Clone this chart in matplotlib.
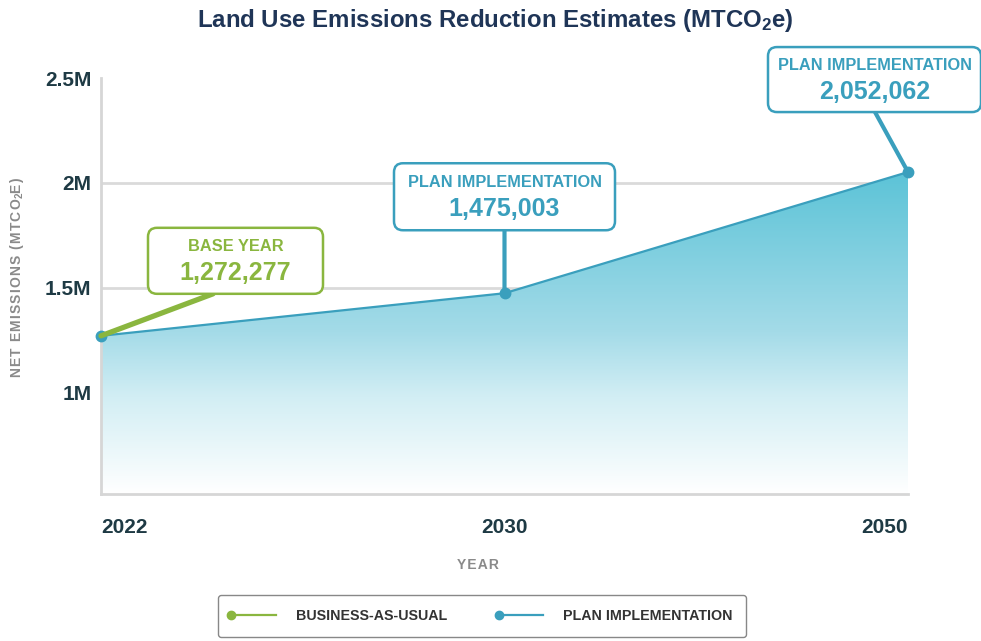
import numpy as np
import matplotlib
matplotlib.use("Agg")
import matplotlib.pyplot as plt
from matplotlib.colors import LinearSegmentedColormap
from matplotlib.patches import FancyBboxPatch
from matplotlib.lines import Line2D
from matplotlib.legend_handler import HandlerLine2D
from matplotlib.transforms import IdentityTransform

plt.rcParams['font.family'] = ['Liberation Sans', 'DejaVu Sans']
plt.rcParams['mathtext.fontset'] = 'custom'
plt.rcParams['mathtext.rm'] = 'Liberation Sans:bold'
plt.rcParams['mathtext.default'] = 'rm'

# data
years = ['2022', '2030', '2050']
plan = [1272277, 1475003, 2052062]
yticks = [1.0e6, 1.5e6, 2.0e6, 2.5e6]
ytick_labels = ['1M', '1.5M', '2M', '2.5M']
callout_titles = ['BASE YEAR', 'PLAN IMPLEMENTATION', 'PLAN IMPLEMENTATION']
legend_labels = ['BUSINESS-AS-USUAL', 'PLAN IMPLEMENTATION']

teal = '#3a9fbd'
green = '#8ab63f'
dark = '#1e3a44'
gray = '#8a8a8a'


def spaced(s):
    # rough letter spacing with hair spaces
    return '\u200a'.join(s)


W, H = 981, 641
fig = plt.figure(figsize=(W / 100, H / 100), dpi=100)
ax = fig.add_axes([101 / W, (H - 494) / H, (908 - 101) / W, (494 - 78) / H])

x = np.arange(len(years))
ymin, ymax = 0.519e6, 2.5e6
ax.set_xlim(0, len(years) - 1)
ax.set_ylim(ymin, ymax)

# gradient fill under the line
poly = ax.fill_between(x, plan, ymin, color='none', lw=0, zorder=1)
cmap = LinearSegmentedColormap.from_list(
    'fade', [(0, '#ffffff'), (0.3, '#d2eef4'), (0.5, '#a4dbe8'), (1, '#5bc3d7')])
grad = np.linspace(0, 1, 256).reshape(-1, 1)
img = ax.imshow(grad, cmap=cmap, aspect='auto', origin='lower',
                extent=[0, len(years) - 1, ymin, 2.06e6], zorder=1)
img.set_clip_path(poly.get_paths()[0], transform=ax.transData)

ax.plot(x, plan, color=teal, lw=1.6, marker='o', ms=7.5, zorder=4, clip_on=False)

# axes styling
for s in ['top', 'right']:
    ax.spines[s].set_visible(False)
for s in ['left', 'bottom']:
    ax.spines[s].set_color('#d6d6d6')
    ax.spines[s].set_linewidth(2)
ax.set_yticks(yticks)
ax.set_yticklabels(ytick_labels)
ax.set_xticks(x)
ax.set_xticklabels(years)
ax.tick_params(axis='y', length=0, pad=7, labelsize=15, labelcolor=dark)
ax.tick_params(axis='x', length=0, pad=17, labelsize=15, labelcolor=dark)
for lab in ax.get_xticklabels() + ax.get_yticklabels():
    lab.set_fontweight('bold')
xl = ax.get_xticklabels()
xl[0].set_ha('left')
xl[-1].set_ha('right')
ax.set_axisbelow(True)
ax.yaxis.grid(True, color='#dadada', lw=2)
ax.yaxis.get_gridlines()[-1].set_visible(False)

# titles
fig.text(495 / W, 1 - 20 / H, r'Land Use Emissions Reduction Estimates (MTCO$_2$e)',
         ha='center', va='center', fontsize=17.3, fontweight='bold', color='#1f3557')
fig.text(17 / W, 1 - 277 / H, spaced('NET EMISSIONS (MTCO') + r'$_2$' + spaced('E)'),
         rotation=90, ha='center', va='center', fontsize=10, fontweight='bold',
         color=gray)
fig.text(478 / W, 1 - 565 / H, spaced('YEAR'), ha='center', va='center',
         fontsize=10, fontweight='bold', color=gray)

# callouts: box centre offset from point, box size, connector start offset (pixels)
callouts = [
    dict(color=green, off=(134.5, 75), size=(175, 66), conn=(112, 42), lw=3.8),
    dict(color=teal, off=(0, 96.5), size=(221, 67), conn=(0, 63), lw=3),
    dict(color=teal, off=(-33.5, 92.5), size=(213, 65), conn=(-33, 60), lw=3),
]
for i, c in enumerate(callouts):
    px, py = ax.transData.transform((x[i], plan[i]))
    cx, cy = px + c['off'][0], py + c['off'][1]
    w, h = c['size']
    ax.annotate('', xy=(x[i], plan[i]), xytext=c['conn'], textcoords='offset pixels',
                arrowprops=dict(arrowstyle='-', color=c['color'], lw=c['lw'],
                                shrinkA=0, shrinkB=0),
                annotation_clip=False, zorder=5)
    box = FancyBboxPatch((cx - w / 2, cy - h / 2), w, h,
                         boxstyle='round,pad=0,rounding_size=9',
                         transform=IdentityTransform(), facecolor='white',
                         edgecolor=c['color'], lw=1.8, zorder=6, clip_on=False)
    ax.add_artist(box)
    ax.annotate(callout_titles[i], xy=(x[i], plan[i]),
                xytext=(c['off'][0], c['off'][1] + 14), textcoords='offset pixels',
                ha='center', va='center', fontsize=11.8, fontweight='bold',
                color=c['color'], zorder=7, annotation_clip=False)
    ax.annotate(f'{plan[i]:,}', xy=(x[i], plan[i]),
                xytext=(c['off'][0], c['off'][1] - 12), textcoords='offset pixels',
                ha='center', va='center', fontsize=18, fontweight='bold',
                color=c['color'], zorder=7, annotation_clip=False)


class DotLeftHandler(HandlerLine2D):
    def create_artists(self, legend, orig_handle, xdescent, ydescent,
                       width, height, fontsize, trans):
        y = height / 2 - ydescent
        col = orig_handle.get_color()
        line = Line2D([-xdescent, width - xdescent], [y, y], color=col, lw=1.6)
        dot = Line2D([-xdescent], [y], marker='o', ms=6, color=col, lw=0)
        line.set_transform(trans)
        dot.set_transform(trans)
        return [line, dot]


handles = [Line2D([], [], color=green), Line2D([], [], color=teal)]
leg = fig.legend(handles, legend_labels, loc='center',
                 bbox_to_anchor=(482 / W, 25 / H), ncol=2, frameon=True,
                 fancybox=True, edgecolor='#6a6a6a', handlelength=3.1,
                 handletextpad=1.4, columnspacing=3.6, borderpad=0.95,
                 borderaxespad=0.5,
                 prop={'size': 10.3, 'weight': 'bold'},
                 handler_map={Line2D: DotLeftHandler()})
leg.get_frame().set_linewidth(1)
for t in leg.get_texts():
    t.set_color('#333333')

fig.savefig('out.png', dpi=100)
